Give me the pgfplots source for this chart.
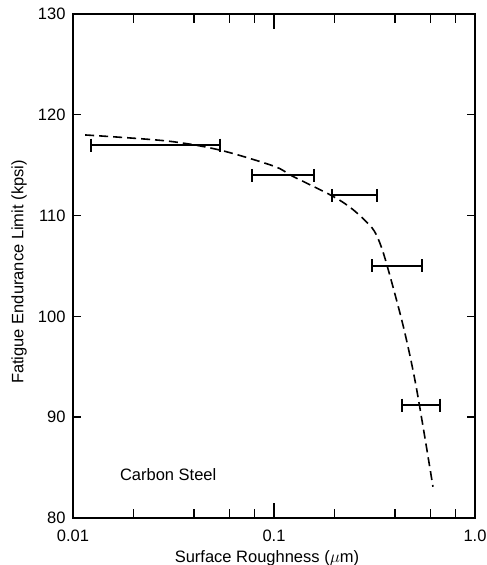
\documentclass[border=0pt]{standalone}
\usepackage{fontspec}
\setmainfont{Liberation Sans}
\usepackage{pgfplots}
\pgfplotsset{compat=1.18}
\begin{document}
\begin{tikzpicture}
\begin{axis}[
    scale only axis,
    width=402pt, height=504pt,
    xmode=log,
    xmin=0.01, xmax=1,
    ymin=80, ymax=130,
    xtick={0.01,0.1,1},
    xticklabels={0.01,0.1,1.0},
    minor xtick={0.02,0.04,0.06,0.08,0.2,0.4,0.6,0.8},
    ytick={80,90,...,130},
    tick align=inside,
    major tick length=8pt,
    minor tick length=9pt,
    extra x ticks={0.1},
    extra x tick labels={},
    extra tick style={major tick length=15pt},
    tick style={line width=1.4pt, black},
    axis line style={line width=2pt},
    /pgf/number format/assume math mode=true,
    every tick label/.append style={font=\fontsize{16.5}{19}\selectfont},
    xticklabel style={yshift=-8pt},
    yticklabel style={xshift=-4pt},
    label style={font=\fontsize{16.5}{19}\selectfont},
    xlabel={Surface Roughness ($\mu$m)},
    ylabel={Fatigue Endurance Limit (kpsi)},
    x label style={at={(axis description cs:0.5,0)}, anchor=north, yshift=-29pt, xshift=-7pt},
    y label style={at={(axis description cs:0,0.5)}, anchor=center, yshift=54pt, xshift=-6pt},
  ]
  % fitted trend (dashed)
  \addplot[black, line width=1.6pt, dash pattern=on 9pt off 5pt, smooth] coordinates {
    (0.0115,118.0) (0.0294,117.4) (0.0538,116.5) (0.1,114.9) (0.124,113.9)
    (0.197,111.9) (0.247,110.6) (0.307,108.8) (0.336,107.3) (0.367,104.9)
    (0.44,99.0) (0.51,93.0) (0.618,83.1)
  };
  % measured roughness ranges
  \addplot[black, line width=2pt, mark=|, mark size=6.5pt, mark options={line width=2pt}] coordinates {(0.0123,117) (0.0538,117)};
  \addplot[black, line width=2pt, mark=|, mark size=6.5pt, mark options={line width=2pt}] coordinates {(0.0778,114) (0.158,114)};
  \addplot[black, line width=2pt, mark=|, mark size=6.5pt, mark options={line width=2pt}] coordinates {(0.195,112) (0.325,112)};
  \addplot[black, line width=2pt, mark=|, mark size=6.5pt, mark options={line width=2pt}] coordinates {(0.307,105) (0.545,105)};
  \addplot[black, line width=2pt, mark=|, mark size=6.5pt, mark options={line width=2pt}] coordinates {(0.434,91.2) (0.67,91.2)};
  \node[anchor=west, inner sep=0pt, font=\fontsize{16.5}{19}\selectfont] at (axis cs:0.0171,84.3) {Carbon Steel};
\end{axis}
\pgfresetboundingbox
\path[use as bounding box] (current axis.south west) ++(-73pt,-47pt) rectangle ([xshift=12pt,yshift=14pt]current axis.north east);
\end{tikzpicture}
\end{document}
